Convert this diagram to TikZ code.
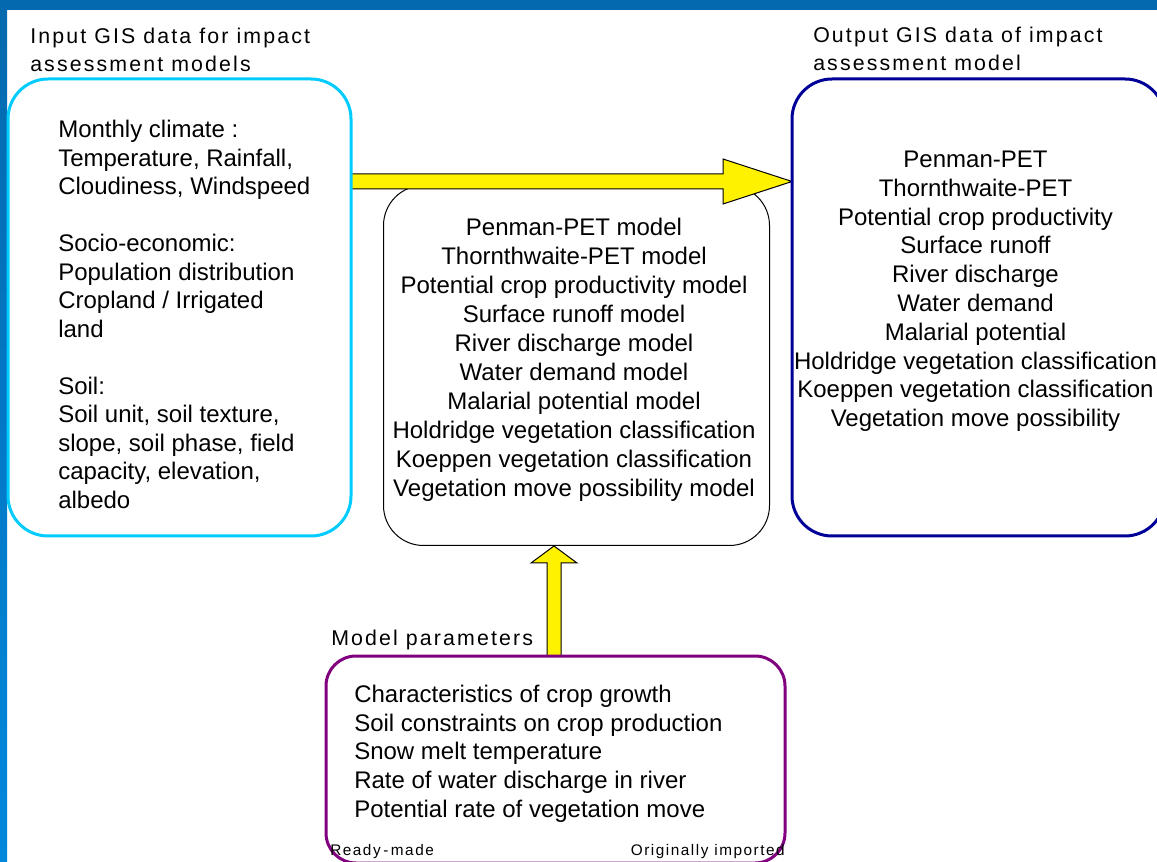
\documentclass[tikz,border=0pt]{standalone}
\usepackage{fontspec}
\setmainfont{Liberation Sans}
\newfontfamily\spacedfont[LetterSpace=10]{Liberation Sans}
\usetikzlibrary{calc}
\definecolor{bandblue}{HTML}{0469AE}
\definecolor{bandlight}{HTML}{0088DD}
\definecolor{incyan}{HTML}{00CCFF}
\definecolor{outnavy}{HTML}{000099}
\definecolor{parpurple}{HTML}{800080}
\begin{document}
\begin{tikzpicture}[x=0.75pt,y=-0.75pt,
  box/.style={rounded corners=30pt, line width=2.25pt, anchor=north west, inner sep=0pt},
  midbox/.style={draw=black, line width=0.75pt, rounded corners=30pt, anchor=north west, inner sep=0pt, fill=white},
  title/.style={font=\spacedfont\fontsize{16}{21}\selectfont, inner sep=0pt, align=left, anchor=north west},
  small/.style={font=\spacedfont\fontsize{11.5}{14}\selectfont, inner sep=0pt},
  yarrow/.style={fill=yellow, draw=black, line width=0.75pt, line join=miter}
]
\fill[white] (0,0) rectangle (1157,862);
\useasboundingbox (0,0) rectangle (1157,862);
% frame bands
\shade[top color=bandblue, bottom color=bandlight] (0,0) rectangle (7,862);
\fill[bandblue] (0,0) rectangle (1157,10);

% middle box
\node[midbox, minimum width=289.5pt, minimum height=270pt] (mid) at (383,185) {};

% boxes
\node[box, minimum width=255pt, minimum height=340.5pt] (in) at (8,79) {};
\node[box, minimum width=277.5pt, minimum height=340.5pt] (out) at (792,79) {};
\node[box, rounded corners=22.5pt, minimum width=342pt, minimum height=153pt] (par) at (326,656) {};

% arrows
\coordinate (hy) at (0,181.5);
\coordinate (hs) at (in.east |- hy);
\coordinate (he) at (out.west |- hy);
\draw[yarrow] ($(hs)+(0,-7.5)$) -- ($(he)+(-69,-7.5)$) -- ($(he)+(-69,-22.5)$) -- (he)
  -- ($(he)+(-69,22.5)$) -- ($(he)+(-69,7.5)$) -- ($(hs)+(0,7.5)$) -- cycle;
\coordinate (vx) at (554,0);
\coordinate (vs) at (par.north -| vx);
\coordinate (ve) at (mid.south -| vx);
\draw[yarrow] ($(vs)+(-7,0)$) -- ($(ve)+(-7,17)$) -- ($(ve)+(-23,17)$) -- (ve)
  -- ($(ve)+(23,17)$) -- ($(ve)+(7,17)$) -- ($(vs)+(7,0)$) -- cycle;

% box outlines on top
\draw[incyan, line width=2.25pt, rounded corners=30pt] (in.north west) rectangle (in.south east);
\draw[outnavy, line width=2.25pt, rounded corners=30pt] (out.north west) rectangle (out.south east);
\draw[parpurple, line width=2.25pt, rounded corners=22.5pt] (par.north west) rectangle (par.south east);

% titles
\node[title] (intitle) at (30,27.7) {Input GIS data for impact\\assessment models};
\node[title] (outtitle) at (813,27) {Output GIS data of impact\\assessment model};
\node[title] (partitle) at (331,629.7) {Model parameters};

% texts
\node[inner sep=0pt, align=left, anchor=north west, font=\fontsize{18}{21.375}\selectfont] (intext) at (58,120)
 {Monthly climate :\\Temperature, Rainfall,\\Cloudiness, Windspeed\\[21.375pt]%
  Socio-economic:\\Population distribution\\Cropland / Irrigated\\land\\[21.375pt]%
  Soil:\\Soil unit, soil texture,\\slope, soil phase, field\\capacity, elevation,\\albedo};
\node[inner sep=0pt, align=center, anchor=north, font=\fontsize{18}{21.75}\selectfont] (midtext) at (574,217.8)
 {Penman-PET model\\Thornthwaite-PET model\\Potential crop productivity model\\Surface runoff model\\%
  River discharge model\\Water demand model\\Malarial potential model\\Holdridge vegetation classification\\%
  Koeppen vegetation classification\\Vegetation move possibility model};
\node[inner sep=0pt, align=center, anchor=north, font=\fontsize{18}{21.6}\selectfont] (outtext) at (975.5,150.8)
 {Penman-PET\\Thornthwaite-PET\\Potential crop productivity\\Surface runoff\\River discharge\\%
  Water demand\\Malarial potential\\Holdridge vegetation classification\\Koeppen vegetation classification\\%
  Vegetation move possibility};
\node[inner sep=0pt, align=left, anchor=north west, font=\fontsize{18}{21.5}\selectfont] (partext) at (354,684.8)
 {Characteristics of crop growth\\Soil constraints on crop production\\Snow melt temperature\\%
  Rate of water discharge in river\\Potential rate of vegetation move};
\node[small, anchor=base west] (ready) at (330,855) {Ready\,-\,made};
\node[small, anchor=base east] (orig) at (785,855) {Originally imported};
\end{tikzpicture}
\end{document}
